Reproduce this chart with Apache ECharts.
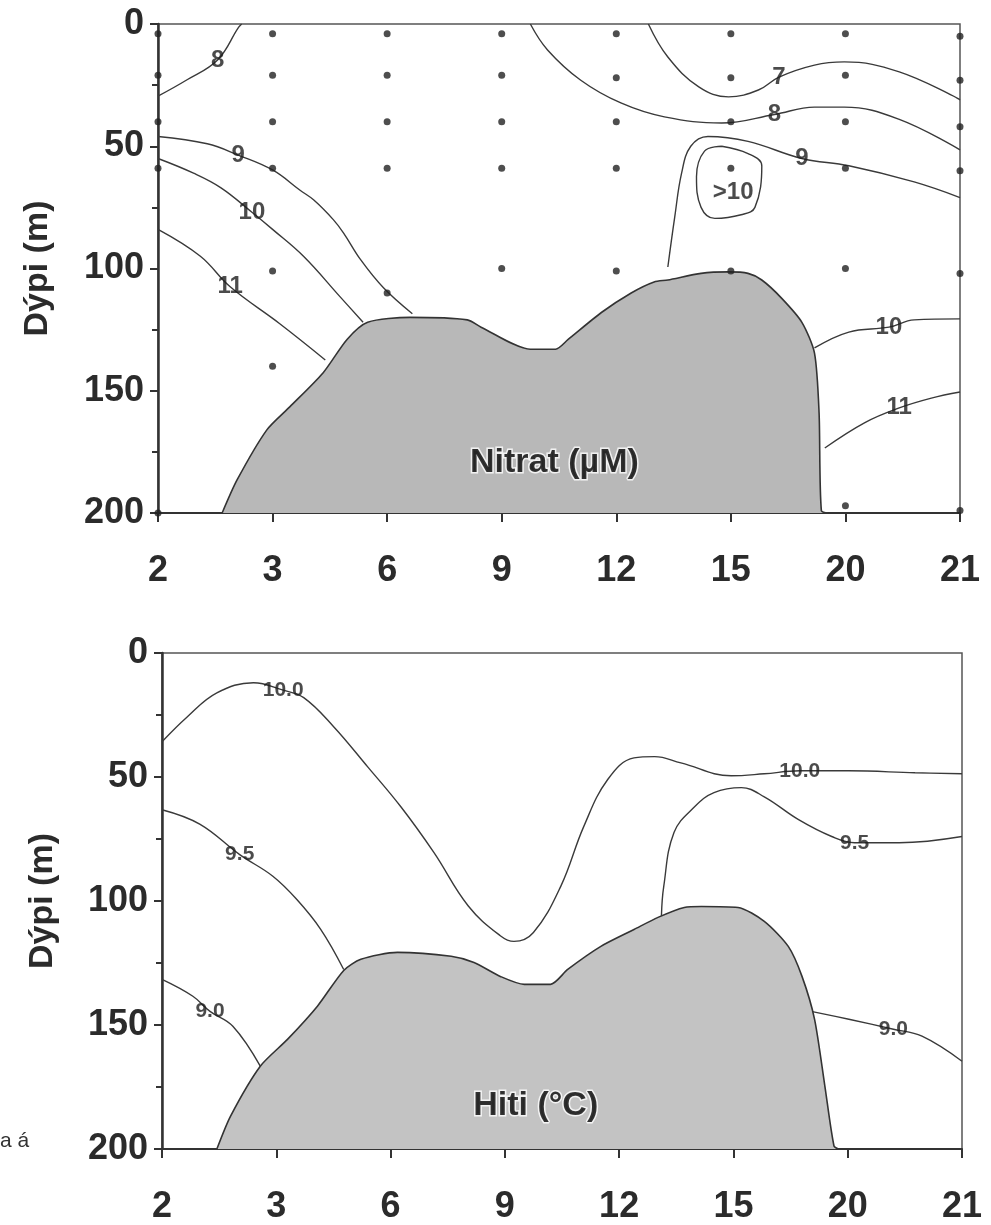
<!DOCTYPE html>
<html>
<head>
<meta charset="utf-8">
<script src="https://cdn.jsdelivr.net/npm/echarts@6/dist/echarts.min.js"></script>
<style>
  html, body { margin: 0; padding: 0; background: #fff; }
  #main { width: 991px; height: 1225px; }
</style>
</head>
<body>
<div id="main"></div>
<script>
// stöðvar á x-ás (jafnt bil, staða 0..7)
var stations = ['2', '3', '6', '9', '12', '15', '20', '21'];
var depthTicks = [0, 50, 100, 150, 200];

// sýnatökudýpi á hverri stöð (efri mynd)
var sampleDepths = [
    [4, 21, 40, 59, 200],
    [4, 21, 40, 59, 101, 140],
    [4, 21, 40, 59, 110],
    [4, 21, 40, 59, 100],
    [4, 22, 40, 59, 101],
    [4, 22, 40, 59, 101],
    [4, 21, 40, 59, 100, 197],
    [5, 23, 42, 60, 102, 199]
];

// botn  [staða, dýpi]
var nitBottom = [[0.56,200],[0.69,186.5],[0.95,166],[1.15,156.6],[1.44,142.7],[1.65,129],[1.83,122],[2.2,120],[2.7,121],[2.82,124],[3.25,133],[3.47,133],[3.58,129],[3.87,118],[4.13,110],[4.33,105.5],[4.45,104.7],[4.74,102],[4.98,101.4],[5.15,102],[5.27,104.7],[5.44,112],[5.62,122],[5.73,134.6],[5.77,159],[5.79,199],[5.85,200]];
var hitBottom = [[0.48,200],[0.60,186.7],[0.86,166.6],[1.10,155.7],[1.36,142.4],[1.59,128],[1.74,123.5],[2.06,120.7],[2.53,122.3],[2.73,124.8],[2.96,130.4],[3.17,133.6],[3.40,133.6],[3.55,127.6],[3.84,118.3],[4.13,111.5],[4.34,106.6],[4.57,102.6],[4.72,102.2],[5.04,102.6],[5.27,108.2],[5.48,118.3],[5.60,130.4],[5.71,147.7],[5.80,174.6],[5.88,198.8],[5.92,200]];

// jafngildislínur, nitrat
var nit8a = [[0,29.5],[0.25,22.9],[0.52,14.7],[0.7,1.6],[0.73,0]];
var nit9a = [[0,46],[0.43,49],[0.7,53.6],[1.0,59.7],[1.24,68],[1.36,72],[1.53,80],[1.62,85.5],[1.77,96.5],[1.97,108],[2.22,118.5]];
var nit10a = [[0,55],[0.31,61],[0.55,67],[0.82,77],[1.0,84],[1.27,95],[1.59,111.6],[1.79,122]];
var nit11a = [[0,84],[0.37,95],[0.63,107.5],[1.06,122.5],[1.46,137.4]];
var nit7 = [[4.28,0],[4.45,13.5],[4.72,25.7],[4.98,29.8],[5.24,27],[5.42,21.7],[5.73,16.8],[5.99,15.5],[6.47,19.6],[7.0,31]];
var nit8b = [[3.25,0],[3.40,10.6],[3.69,23],[4.04,32.3],[4.42,38],[4.92,40.5],[5.38,37],[5.73,34],[5.99,34],[6.47,39],[7.0,51.5]];
var nit9b = [[4.45,99.4],[4.51,79],[4.57,61],[4.65,50],[4.80,46],[5.15,48],[5.62,55],[6.03,58],[6.60,64.6],[7.0,71]];
var nit10loop = [[4.92,50],[5.15,53],[5.27,58],[5.21,75],[5.09,78],[4.86,79.5],[4.74,75],[4.70,62.5],[4.77,52],[4.92,50]];
var nit10b = [[5.73,132.5],[6.03,126],[6.38,124],[6.60,121],[7.0,120.6]];
var nit11b = [[5.82,173.4],[6.17,163],[6.47,157],[6.75,153],[7.0,150.5]];

// jafngildislínur, hiti
var hit100 = [[0,35.8],[0.22,25.8],[0.48,16.1],[0.80,12],[1.06,15],[1.24,18],[1.50,29.6],[1.80,45.9],[2.09,62],[2.38,80.5],[2.68,102],[2.96,114],[3.08,116.3],[3.25,112.7],[3.49,94],[3.69,70],[3.90,51],[4.13,42.3],[4.31,41.8],[4.54,44.3],[4.98,49.5],[5.27,48.7],[5.58,47.5],[6.01,47.5],[6.59,48.3],[7.0,48.7]];
var hit95a = [[0,63.2],[0.33,69],[0.68,81.3],[0.97,90],[1.18,99.4],[1.39,111.5],[1.59,127.6]];
var hit95b = [[4.37,106],[4.39,94.2],[4.48,72.4],[4.66,62],[4.83,56.3],[5.07,54.3],[5.27,58],[5.57,67.2],[5.86,74],[6.06,76.5],[6.45,76.5],[7.0,74]];
var hit90a = [[0,131.6],[0.27,138.4],[0.42,144.5],[0.62,150.5],[0.86,166.6]];
var hit90b = [[5.68,144.5],[6.01,147.7],[6.40,151.7],[6.65,154.5],[7.0,164.6]];

// merkingar á línum  [staða, dýpi, texti]
var nitLabels = [[0.52,14.7,'8'],[0.70,53.6,'9'],[0.82,77,'10'],[0.63,107.5,'11'],[5.42,21.7,'7'],[5.38,37,'8'],[5.62,55,'9'],[5.02,68.7,'>10'],[6.38,124,'10'],[6.47,157,'11']];
var hitLabels = [[1.06,15,'10.0'],[5.58,47.5,'10.0'],[0.68,81.3,'9.5'],[6.06,76.5,'9.5'],[0.42,144.5,'9.0'],[6.40,151.7,'9.0']];
var panelTitles = [[3.46,179.5,'Nitrat (µM)'],[3.27,182.7,'Hiti (°C)']];

var myChart = echarts.init(document.getElementById('main'));

var FONT = '"Liberation Sans", Arial, sans-serif';
var lineCol = '#3a3a3a';

function contour(data, g) {
    return {
        type: 'line', xAxisIndex: g, yAxisIndex: g, data: data,
        smooth: 0.4, symbol: 'none', silent: true, z: 2,
        lineStyle: { color: lineCol, width: 1.4 }
    };
}
function bottom(data, g, fill) {
    return {
        type: 'line', xAxisIndex: g, yAxisIndex: g, data: data,
        smooth: 0.25, symbol: 'none', silent: true, z: 3,
        lineStyle: { color: '#333', width: 1.6 },
        areaStyle: { color: fill, opacity: 1, origin: 'end' }
    };
}
function labels(arr, g, size) {
    return {
        type: 'scatter', xAxisIndex: g, yAxisIndex: g, symbolSize: 0, z: 5, silent: true,
        data: arr.map(function (d) { return { value: [d[0], d[1]], name: d[2] }; }),
        label: { show: true, position: 'inside', formatter: '{b}', fontFamily: FONT,
                 fontWeight: 'bold', fontSize: size, color: '#1e1e1e' }
    };
}
function panelTitle(t, g) {
    return {
        type: 'scatter', symbolSize: 0, z: 6, silent: true,
        xAxisIndex: g, yAxisIndex: g,
        data: [{ value: [t[0], t[1]], name: t[2] }],
        label: { show: true, position: 'inside', formatter: '{b}', fontFamily: FONT, fontWeight: 'bold',
                 fontSize: 34, color: '#000', textBorderColor: '#fff', textBorderWidth: 3 }
    };
}

var samplePoints = [];
for (var i = 0; i < sampleDepths.length; i++) {
    for (var j = 0; j < sampleDepths[i].length; j++) {
        samplePoints.push([i, sampleDepths[i][j]]);
    }
}

function xAxisFor(g) {
    return {
        type: 'value', gridIndex: g, min: 0, max: 7, interval: 1, position: 'bottom',
        axisLine: { onZero: false, lineStyle: { color: '#333', width: 2 } },
        axisTick: { length: 9, lineStyle: { color: '#333', width: 2 } },
        splitLine: { show: false },
        axisLabel: { formatter: function (v) { return stations[v]; }, margin: 40,
                     fontFamily: FONT, fontWeight: 'bold', fontSize: 36, color: '#2b2b2b' }
    };
}
function yAxisFor(g, gap) {
    return {
        type: 'value', gridIndex: g, min: 0, max: 200, interval: 50, inverse: true,
        name: 'Dýpi (m)', nameLocation: 'middle', nameGap: gap,
        nameTextStyle: { fontFamily: FONT, fontWeight: 'bold', fontSize: 34, color: '#2b2b2b' },
        axisLine: { onZero: false, lineStyle: { color: '#333', width: 2.5 } },
        axisTick: { length: 8, lineStyle: { color: '#333', width: 2 } },
        minorTick: { show: true, splitNumber: 2, length: 6, lineStyle: { color: '#333', width: 2 } },
        splitLine: { show: false },
        axisLabel: { formatter: function (v) { return depthTicks.indexOf(v) >= 0 ? String(v) : ''; },
                     margin: 14, fontFamily: FONT, fontWeight: 'bold', fontSize: 36, color: '#2b2b2b' }
    };
}

myChart.setOption({
    animation: false,
    backgroundColor: '#fff',
    grid: [
        { left: 158, top: 24, width: 802, height: 489, show: true, borderColor: '#555', borderWidth: 1.5 },
        { left: 162, top: 653, width: 800, height: 497, show: true, borderColor: '#555', borderWidth: 1.5 }
    ],
    xAxis: [xAxisFor(0), xAxisFor(1)],
    yAxis: [yAxisFor(0, 103), yAxisFor(1, 102)],
    graphic: [
        { type: 'text', left: 0, top: 1131,
          style: { text: 'a á', fontFamily: FONT, fontSize: 21, fill: '#333' } }
    ],
    series: [
        contour(nit8a, 0), contour(nit9a, 0), contour(nit10a, 0), contour(nit11a, 0),
        contour(nit7, 0), contour(nit8b, 0), contour(nit9b, 0), contour(nit10loop, 0),
        contour(nit10b, 0), contour(nit11b, 0),
        bottom(nitBottom, 0, '#b8b8b8'),
        {
            type: 'scatter', xAxisIndex: 0, yAxisIndex: 0, data: samplePoints,
            symbolSize: 7, itemStyle: { color: '#222' }, z: 4, silent: true
        },
        labels(nitLabels, 0, 24),

        contour(hit100, 1), contour(hit95a, 1), contour(hit95b, 1),
        contour(hit90a, 1), contour(hit90b, 1),
        bottom(hitBottom, 1, '#c3c3c3'),
        labels(hitLabels, 1, 21),

        panelTitle(panelTitles[0], 0),
        panelTitle(panelTitles[1], 1)
    ]
});
</script>
</body>
</html>
